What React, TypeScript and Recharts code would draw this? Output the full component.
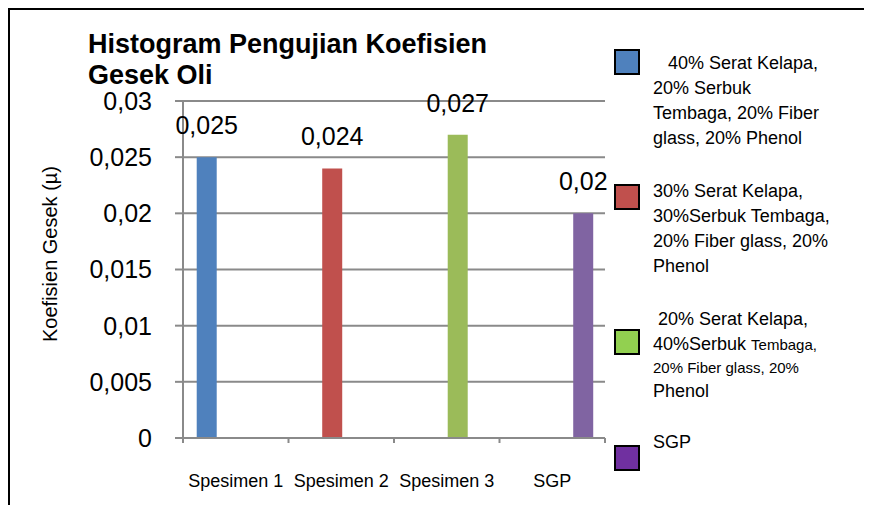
import { Bar, BarChart, CartesianGrid, LabelList, XAxis, YAxis } from "recharts";

const categories = ["Spesimen 1", "Spesimen 2", "Spesimen 3", "SGP"];
const seriesNames = [
  "40% Serat Kelapa, 20% Serbuk Tembaga, 20% Fiber glass, 20% Phenol",
  "30% Serat Kelapa, 30%Serbuk Tembaga, 20% Fiber glass, 20% Phenol",
  "20% Serat Kelapa, 40%Serbuk Tembaga, 20% Fiber glass, 20% Phenol",
  "SGP"
];
const values = [0.025, 0.024, 0.027, 0.02];
const yTicks = [0, 0.005, 0.01, 0.015, 0.02, 0.025, 0.03];
const titleLines = ["Histogram Pengujian Koefisien", "Gesek Oli"];
const yLabel = "Koefisien Gesek (\u00b5)";

// legend text as it wraps in the original (segments with small = smaller font)
const legendLines: Array<Array<Array<{ text: string; small?: boolean }>>> = [
  [
    [{ text: "   40% Serat Kelapa," }],
    [{ text: "20% Serbuk" }],
    [{ text: "Tembaga, 20% Fiber" }],
    [{ text: "glass, 20% Phenol" }]
  ],
  [
    [{ text: "30% Serat Kelapa," }],
    [{ text: "30%Serbuk Tembaga," }],
    [{ text: "20% Fiber glass, 20%" }],
    [{ text: "Phenol" }]
  ],
  [
    [{ text: " 20% Serat Kelapa," }],
    [{ text: "40%Serbuk " }, { text: "Tembaga,", small: true }],
    [{ text: "20% Fiber glass, 20%", small: true }],
    [{ text: "Phenol" }]
  ],
  [[{ text: "SGP" }]]
];

const barColors = ["#4F81BD", "#C0504D", "#9BBB59", "#8064A2"];
const legendColors = ["#4F81BD", "#C0504D", "#92D050", "#7030A0"];

const FONT = "'Liberation Sans', Arial, sans-serif";
const AXIS = "#8a8a8a";
const X_TICK_MARGIN = 49;

// legend placement (chart coords)
const legendBoxTop = [41, 176, 321, 437];
const legendTextTop = [43, 171, 299, 422];
const legendLineHeights = [
  [25, 25, 25, 25],
  [25, 25, 25, 25],
  [25, 23, 24, 25],
  [25]
];

const data = categories.map((category, i) => ({
  category,
  [`s${i}`]: values[i]
}));

const fmt = (v: unknown) =>
  v === undefined || v === null ? "" : String(v).replace(".", ",");

function CategoryTick(props: any) {
  const { x, y, payload, index, visibleTicksCount, width } = props;
  const half =
    payload && typeof payload.offset === "number" && payload.offset > 0
      ? payload.offset
      : width / visibleTicksCount / 2;
  const axisY = y - X_TICK_MARGIN;
  return (
    <g>
      <line x1={x - half} x2={x - half} y1={axisY} y2={axisY + 5} stroke={AXIS} strokeWidth={2} />
      {index === visibleTicksCount - 1 && (
        <line x1={x + half} x2={x + half} y1={axisY} y2={axisY + 5} stroke={AXIS} strokeWidth={2} />
      )}
      <text x={x} y={y} textAnchor="middle" fontSize={18} fontFamily={FONT} fill="#000">
        {payload.value}
      </text>
    </g>
  );
}

function YTitle(props: any) {
  const vb = props.viewBox || { x: 0, y: 93 };
  const cx = vb.x + 49;
  const cy = vb.y + 153;
  return (
    <text
      x={cx}
      y={cy}
      transform={`rotate(-90 ${cx} ${cy})`}
      textAnchor="middle"
      fontSize={20}
      fontFamily={FONT}
      fill="#000"
    >
      {yLabel}
    </text>
  );
}

export default function App() {
  return (
    <div style={{ position: "relative", width: 864, height: 497, fontFamily: FONT, background: "#fff" }}>
      <BarChart
        width={864}
        height={497}
        data={data}
        margin={{ top: 93, right: 267, bottom: 0, left: 0 }}
        barGap={0}
        barCategoryGap="13%"
      >
        <CartesianGrid vertical={false} stroke={AXIS} strokeWidth={2} />
        <XAxis
          dataKey="category"
          height={67}
          tickSize={0}
          tickMargin={X_TICK_MARGIN}
          tickLine={false}
          axisLine={{ stroke: AXIS, strokeWidth: 2 }}
          tick={<CategoryTick />}
          interval={0}
        />
        <YAxis
          width={175}
          domain={[0, 0.03]}
          ticks={yTicks}
          tickFormatter={fmt}
          tickSize={8}
          tickMargin={23}
          tickLine={{ stroke: AXIS, strokeWidth: 2 }}
          axisLine={{ stroke: AXIS, strokeWidth: 2 }}
          tick={{ fontSize: 25, fontFamily: FONT, fill: "#000" }}
          label={{ content: <YTitle /> }}
        />
        {seriesNames.map((name, i) => (
          <Bar key={name} dataKey={`s${i}`} name={name} fill={barColors[i]} isAnimationActive={false}>
            <LabelList
              dataKey={`s${i}`}
              position="top"
              offset={23}
              formatter={fmt}
              style={{ fontSize: 25, fontFamily: FONT, fill: "#000" }}
            />
          </Bar>
        ))}
      </BarChart>

      {titleLines.map((line, i) => (
        <div
          key={line}
          style={{
            position: "absolute",
            left: 80,
            top: 24 + i * 31,
            fontSize: 27,
            fontWeight: "bold",
            lineHeight: "25px",
            height: 25,
            color: "#000",
            whiteSpace: "nowrap"
          }}
        >
          {line}
        </div>
      ))}

      {seriesNames.map((name, i) => (
        <div key={name}>
          <div
            style={{
              position: "absolute",
              left: 606,
              top: legendBoxTop[i],
              width: 22,
              height: 22,
              background: legendColors[i],
              border: "2px solid #000"
            }}
          />
          <div style={{ position: "absolute", left: 645, top: legendTextTop[i], color: "#000" }}>
            {legendLines[i].map((line, j) => (
              <div
                key={j}
                style={{
                  height: legendLineHeights[i][j],
                  lineHeight: "25px",
                  fontSize: 18,
                  whiteSpace: "pre"
                }}
              >
                {line.map((seg, k) => (
                  <span key={k} style={{ fontSize: seg.small ? 15 : 18 }}>
                    {seg.text}
                  </span>
                ))}
              </div>
            ))}
          </div>
        </div>
      ))}

      <div
        style={{
          position: "absolute",
          left: 0,
          top: 0,
          right: 0,
          bottom: 0,
          borderTop: "2px solid #000",
          borderLeft: "2px solid #000",
          pointerEvents: "none"
        }}
      />
    </div>
  );
}
